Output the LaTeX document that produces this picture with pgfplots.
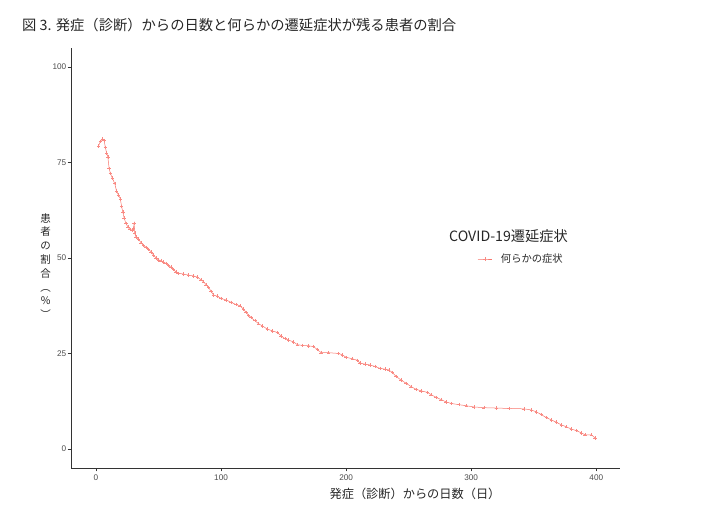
\documentclass[border=0pt]{standalone}
\usepackage{fontspec}
\setmainfont{Noto Sans CJK JP}
\newfontfamily\lat{Liberation Sans}
\usepackage{pgfplots}
\usepackage{pgfplotstable}
\pgfplotsset{compat=1.18}
\definecolor{ggred}{HTML}{F8766D}
\definecolor{gray30}{HTML}{4D4D4D}
\definecolor{gray20}{HTML}{333333}
\newcommand\yc[1]{\hbox to 12bp{\hss #1\hss}}
\newcommand\ystack{\vbox{\fontsize{10.5bp}{13.8bp}\selectfont\lineskiplimit=-100pt\relax\baselineskip=13.8bp\relax
\yc{患}\yc{者}\yc{の}\yc{割}\yc{合}\yc{︵}\yc{\%}\yc{︶}}}
\pgfplotstableread{
day pct
2 79.3
3.5 80.5
5 81.2
6.5 80.8
7.5 79.0
8.5 77.5
9.5 76.5
10.5 73.5
11.5 72.2
13 71.0
15 69.5
16.5 67.5
18 66.5
19.5 65.5
20.5 63.5
21.5 62.0
22.5 60.5
24 59.0
25.5 58.2
27 57.5
29 57.3
30 57.8
30.5 59.0
31 56.5
32 55.5
34 55.0
36 54.0
38 53.3
40 52.8
42 52.3
44 51.6
46 50.8
48 50.0
50 49.5
52 49.3
54 48.9
56 48.6
58 48.0
60 47.6
62 47.0
64 46.3
66 46.0
70 45.8
74 45.5
78 45.3
81 45.0
84 44.3
86 43.8
88 43.0
90 42.3
92 41.3
94 40.3
97 40.0
100 39.4
104 39.0
108 38.4
112 37.8
115 37.5
118 36.6
120 35.8
122 35.0
124 34.4
127 33.6
130 32.8
133 32.2
137 31.4
141 30.9
145 30.5
148 29.6
151 28.9
154 28.5
158 28.0
161 27.3
165 27.1
170 27.0
174 26.8
177 26.0
180 25.2
186 25.2
194 25.0
197 24.6
200 24.0
205 23.6
209 23.2
211 22.5
215 22.2
219 22.0
223 21.6
227 21.1
231 20.9
234 20.7
237 20.0
240 19.0
244 18.0
248 17.2
252 16.3
256 15.6
260 15.2
265 14.8
268 14.2
272 13.5
276 12.9
280 12.3
284 11.9
290 11.6
296 11.3
302 11.0
310 10.8
320 10.7
330 10.6
342 10.5
348 10.2
352 9.7
356 9.0
360 8.2
364 7.6
368 7.0
372 6.3
376 5.8
380 5.2
384 4.8
388 4.2
391 3.7
396 3.7
399 2.9
}\survdata
\begin{document}
\begin{tikzpicture}
\path[use as bounding box] (0,0) rectangle (710bp,521bp);
\node[anchor=west, font=\fontsize{14.3bp}{16bp}\selectfont, text=black!85, inner sep=0pt] at (22bp,496bp) {図 3. 発症（診断）からの日数と何らかの遷延症状が残る患者の割合};
\begin{axis}[
  at={(71bp,53bp)}, anchor=south west,
  scale only axis, width=549bp, height=420bp,
  xmin=-19.95, xmax=418.95, ymin=-5, ymax=105,
  axis x line*=bottom, axis y line*=left,
  axis line style={gray20, line width=0.6bp, -},
  xtick={0,100,200,300,400}, ytick={0,25,50,75,100},
  tick align=outside, major tick length=3.5bp,
  tick style={gray20, line width=0.55bp},
  ticklabel style={font=\lat\fontsize{8.2bp}{9bp}\selectfont, text=gray30},
  yticklabel style={inner xsep=1bp},
  /pgf/number format/assume math mode=true,
  xlabel={発症（診断）からの日数（日）},
  xlabel style={at={(axis description cs:0.6266,0)}, anchor=center, yshift=-26bp, font=\fontsize{12.2bp}{13bp}\selectfont, text=black!85},
  ylabel={\ystack},
  every axis y label/.style={at={(axis description cs:0,0.481)}, anchor=center, xshift=-25.3bp, text=black!85},
  legend style={at={(axis description cs:0.74,0.4976)}, anchor=west, draw=none, fill=none, inner sep=0pt, column sep=7bp, font=\fontsize{10.3bp}{12bp}\selectfont, text=black!85},
  legend cell align=left,
  legend image code/.code={\draw[mark repeat=2,mark phase=2,#1] plot coordinates {(0bp,0bp) (7bp,0bp) (14bp,0bp)};},
]
\addplot[ggred, line width=0.5bp, mark=+, mark size=1.7bp, mark options={line width=0.3bp, ggred!85}] table[x=day,y=pct] {\survdata};
\addlegendentry{何らかの症状}
\node[anchor=west, font=\fontsize{14.2bp}{16bp}\selectfont, text=black!85, inner sep=0pt] at (axis description cs:0.6885,0.5524) {COVID-19遷延症状};
\end{axis}
\end{tikzpicture}
\end{document}
